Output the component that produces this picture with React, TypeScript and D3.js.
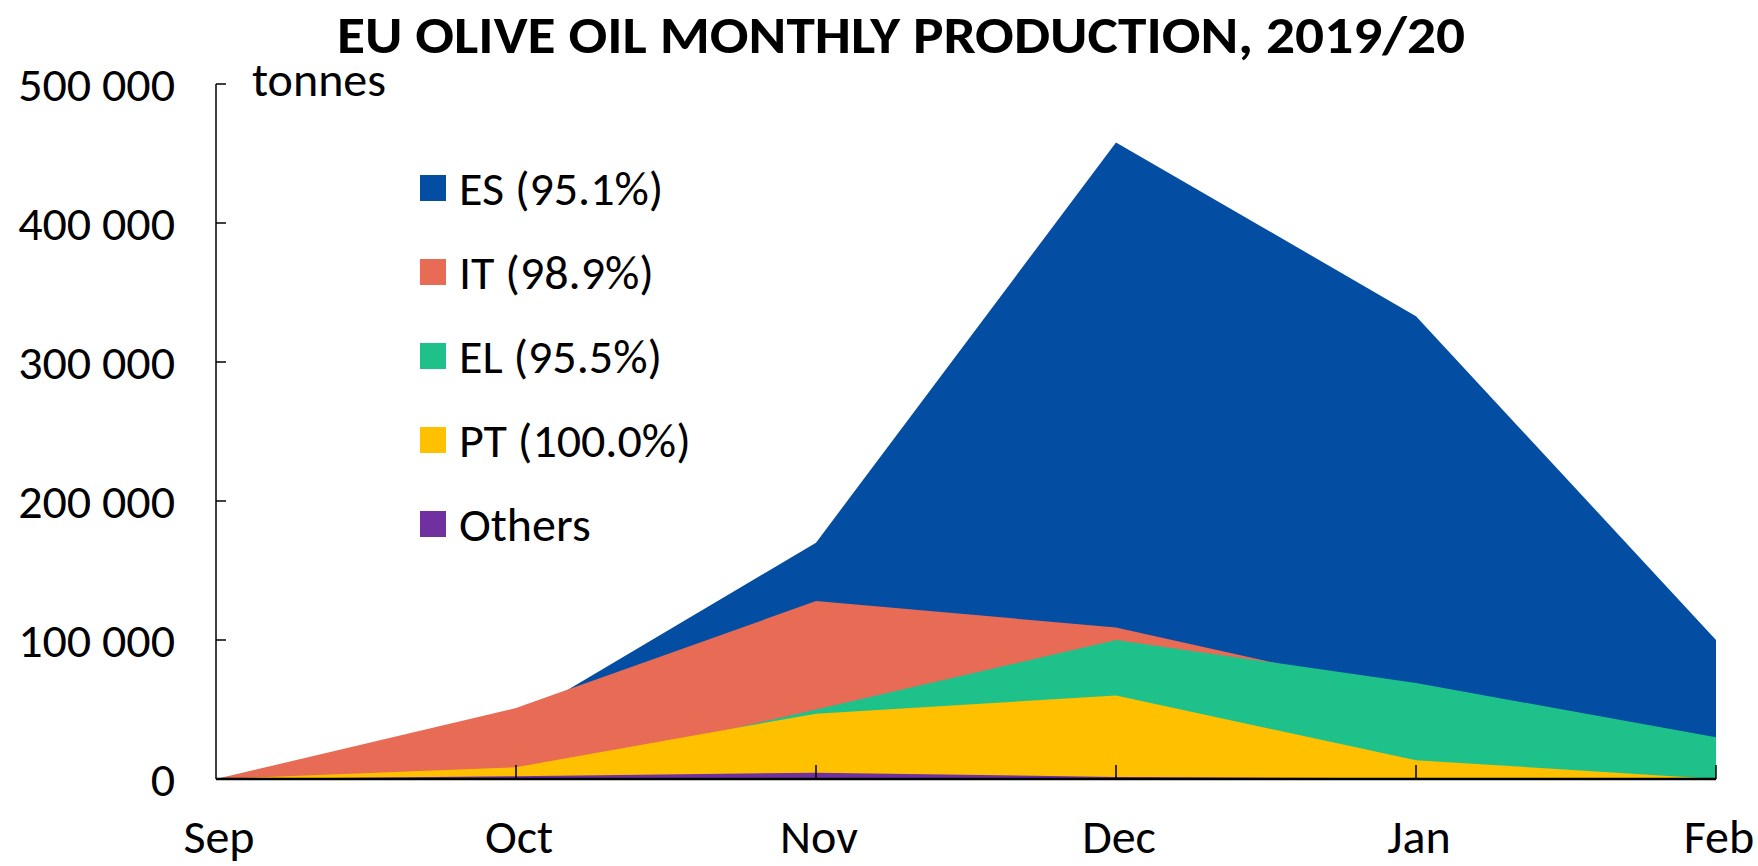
import React from "react";
import * as d3 from "d3";

const months = ["Sep", "Oct", "Nov", "Dec", "Jan", "Feb"];
const esValues = [0, 42000, 170000, 458000, 333000, 100000];
const itValues = [0, 51000, 128000, 109000, 61000, 20000];
const elValues = [0, 0, 50000, 100000, 69000, 30000];
const ptValues = [0, 8500, 47000, 60000, 13500, 0];
const othersValues = [0, 2000, 4500, 1500, 500, 0];
const yTicks = [0, 100000, 200000, 300000, 400000, 500000];

const seriesList = [
  { name: "ES", label: "ES (95.1%)", color: "#034EA2", values: esValues },
  { name: "IT", label: "IT (98.9%)", color: "#E86B55", values: itValues },
  { name: "EL", label: "EL (95.5%)", color: "#1FC18B", values: elValues },
  { name: "PT", label: "PT (100.0%)", color: "#FFC000", values: ptValues },
  { name: "Others", label: "Others", color: "#7030A0", values: othersValues },
];

const W = 1758;
const H = 866;
const FONT = "Carlito, Calibri, Lato, sans-serif";
const FS = 48;

export default function App() {
  const x = d3.scaleLinear().domain([0, months.length - 1]).range([216, 1716]);
  const y = d3.scaleLinear().domain([0, 500000]).range([779, 84]);
  const fmt = (v: number) => d3.format(",")(v).replace(/,/g, " ");

  const area = d3
    .area<number>()
    .x((_, i) => x(i))
    .y0(y(0))
    .y1((d) => y(d));

  return (
    <svg
      width={W}
      height={H}
      style={{ position: "absolute", left: 0, top: 0, background: "#fff" }}
      fontFamily={FONT}
    >
      <text
        x={901}
        y={53}
        textAnchor="middle"
        fontWeight="bold"
        fontSize={53}
        textLength={1128}
        lengthAdjust="spacingAndGlyphs"
        fill="#000"
      >
        EU OLIVE OIL MONTHLY PRODUCTION, 2019/20
      </text>

      {seriesList.map((s) => (
        <path key={s.name} d={area(s.values) || ""} fill={s.color} />
      ))}

      {/* y axis */}
      <line x1={216} x2={216} y1={y(500000)} y2={y(0)} stroke="#000" strokeWidth={1.5} />
      {yTicks.map((t) => (
        <g key={t}>
          {t > 0 && <line x1={216} x2={226} y1={y(t)} y2={y(t)} stroke="#000" strokeWidth={1.5} />}
          <text x={175} y={y(t)} dy="0.36em" textAnchor="end" fontSize={FS} fill="#000">
            {fmt(t)}
          </text>
        </g>
      ))}
      <text x={252} y={96} fontSize={FS} fill="#000">
        tonnes
      </text>

      {/* x axis */}
      {months.map((m, i) => (
        <g key={m}>
          {i > 0 && <line x1={x(i)} x2={x(i)} y1={779} y2={765} stroke="#000" strokeWidth={1.5} />}
          <text x={x(i) + 3} y={853} textAnchor="middle" fontSize={FS} fill="#000">
            {m}
          </text>
        </g>
      ))}
      <line x1={216} x2={1716} y1={779} y2={779} stroke="#000" strokeWidth={2.5} />

      {/* legend */}
      {seriesList.map((s, i) => {
        const cy = 188 + i * 84;
        return (
          <g key={s.name}>
            <rect x={420} y={cy - 13} width={26} height={26} fill={s.color} />
            <text x={459} y={cy} dy="0.36em" fontSize={FS} fill="#000">
              {s.label}
            </text>
          </g>
        );
      })}
    </svg>
  );
}
